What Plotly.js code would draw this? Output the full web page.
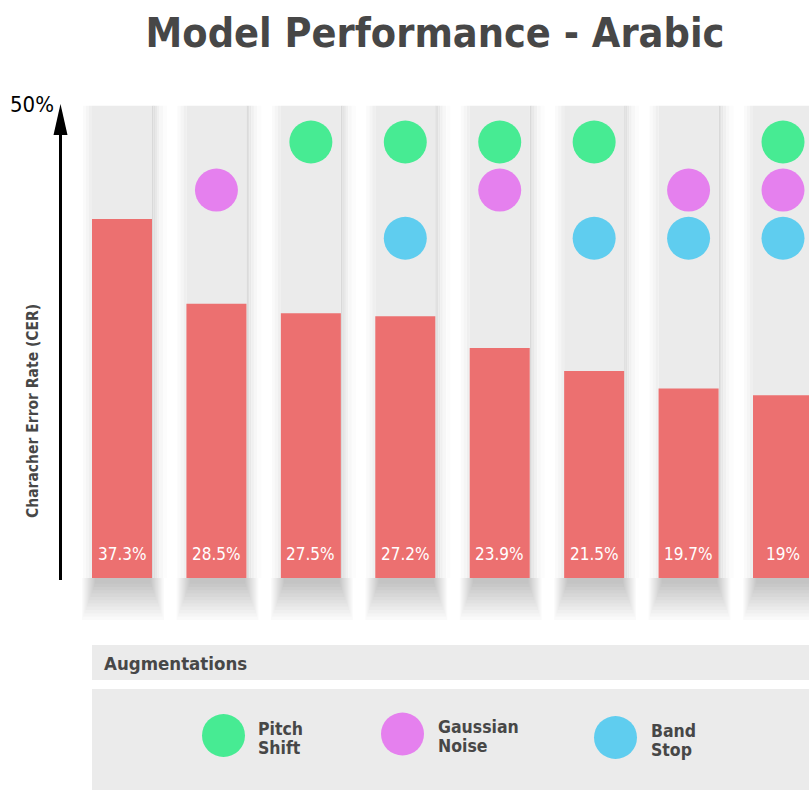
<!DOCTYPE html>
<html>
<head>
<meta charset="utf-8">
<script src="https://cdn.plot.ly/plotly-3.0.1.min.js"></script>
<style>html,body{margin:0;padding:0;background:#fff;}#chart{width:809px;height:791px;}</style>
</head>
<body>
<div id="chart"></div>
<script>
// ---- data ----
const configs = ["Baseline", "Gaussian Noise", "Pitch Shift", "Pitch Shift + Band Stop",
  "Pitch Shift + Gaussian Noise", "Pitch Shift + Band Stop (2)", "Gaussian Noise + Band Stop", "All"];
const cerValues = [37.3, 28.5, 27.5, 27.2, 23.9, 21.5, 19.7, 19];
const valueLabels = ["37.3%", "28.5%", "27.5%", "27.2%", "23.9%", "21.5%", "19.7%", "19%"];
const pitchShift    = [0, 0, 1, 1, 1, 1, 0, 1];
const gaussianNoise = [0, 1, 0, 0, 1, 0, 1, 1];
const bandStop      = [0, 0, 0, 1, 0, 1, 1, 1];
const augNames = ["Pitch Shift", "Gaussian Noise", "Band Stop"];
const axisMaxLabel = "50%";
const yTitle = "Characher Error Rate (CER)";
const chartTitle = "Model Performance - Arabic";

// ---- styling / geometry ----
const W = 809, H = 791;
const C0 = 122, STEP = 94.43;         // px of first column centre, px per column
const ZERO = 578, PER = 9.625;         // px of 0%, px per 1%
const BARW = 60 / STEP;
const COLTOP = 49.07;                  // top of grey column (in %)
const ROWS = [45.3, 40.3, 35.3];       // marker rows (in %)
const colors = {grey: "#ebebeb", red: "#ec7070", green: "#47eb93", pink: "#e580ee", blue: "#5fcdef", text: "#474747"};
const condFont = "'Liberation Sans Narrow', 'DejaVu Sans Condensed', 'Roboto', sans-serif";
const px = x => x / W;
const py = y => 1 - y / H;

const idx = configs.map((_, i) => i);

const traces = [];
traces.push({type: "bar", x: idx, y: idx.map(() => COLTOP), width: BARW,
  marker: {color: colors.grey, line: {width: 0}}, hoverinfo: "skip", showlegend: false});
traces.push({type: "bar", x: idx, y: cerValues, width: BARW,
  marker: {color: colors.red, line: {width: 0}}, hoverinfo: "skip", showlegend: false});
[[pitchShift, colors.green], [gaussianNoise, colors.pink], [bandStop, colors.blue]].forEach((d, r) => {
  const xs = idx.filter(i => d[0][i]);
  traces.push({type: "scatter", mode: "markers", x: xs, y: xs.map(() => ROWS[r]),
    marker: {size: 43, color: d[1], line: {width: 0}}, name: augNames[r], hoverinfo: "skip", showlegend: false});
});

const shapes = [];
idx.forEach(i => {
  const cx = C0 + i * STEP, L = cx - 30, R = cx + 30;
  const top = ZERO - COLTOP * PER;
  // right-edge shadow of grey column (gradient to white)
  [[0, 1.5, "#d9d9d9"], [1.5, 3, "#e0e0e0"], [3, 5, "#e8e8e8"], [5, 7.5, "#f0f0f0"], [7.5, 11, "#f7f7f7"], [11, 15, "#fcfcfc"]].forEach(s => {
    shapes.push({type: "rect", xref: "paper", yref: "paper", layer: "below",
      x0: px(R + s[0]), x1: px(R + s[1]), y0: py(ZERO), y1: py(top), fillcolor: s[2], line: {width: 0}});
  });
  // soft left fade
  [[-9, -6, "#fafafa"], [-6, -3, "#f5f5f5"], [-3, 0, "#efefef"]].forEach(s => {
    shapes.push({type: "rect", xref: "paper", yref: "paper", layer: "below",
      x0: px(L + s[0]), x1: px(L + s[1]), y0: py(ZERO), y1: py(top), fillcolor: s[2], line: {width: 0}});
  });
  // blurred shadow below bar
  for (let k = 0; k < 12; k++) {
    shapes.push({type: "rect", xref: "paper", yref: "paper", layer: "below",
      x0: px(L - 10 + k * 1.2), x1: px(R + 12 - k * 1.2), y0: py(ZERO), y1: py(ZERO + 42 - k * 3.3),
      fillcolor: "rgba(0,0,0,0.018)", line: {width: 0}});
  }
});
// y axis arrow
shapes.push({type: "line", xref: "paper", yref: "paper", x0: px(60.5), x1: px(60.5), y0: py(580), y1: py(130),
  line: {color: "#000", width: 3}});
shapes.push({type: "path", xref: "paper", yref: "paper",
  path: `M ${px(53.5)} ${py(135)} L ${px(60.5)} ${py(104)} L ${px(67.5)} ${py(135)} Z`,
  fillcolor: "#000", line: {width: 0}});
// legend boxes
shapes.push({type: "rect", xref: "paper", yref: "paper", x0: px(92), x1: px(809), y0: py(680), y1: py(645),
  fillcolor: colors.grey, line: {width: 0}});
shapes.push({type: "rect", xref: "paper", yref: "paper", x0: px(92), x1: px(809), y0: py(790), y1: py(689),
  fillcolor: colors.grey, line: {width: 0}});
const legendItems = [[223.5, 735.5, colors.green, 256], [402.5, 734, colors.pink, 436], [615.5, 737.5, colors.blue, 649]];
legendItems.forEach(l => {
  shapes.push({type: "circle", xref: "paper", yref: "paper", x0: px(l[0] - 21.5), x1: px(l[0] + 21.5),
    y0: py(l[1] + 21.5), y1: py(l[1] - 21.5), fillcolor: l[2], line: {width: 0}});
});

const annotations = [];
idx.forEach(i => {
  annotations.push({x: i, y: 0, xref: "x", yref: "y", text: valueLabels[i], showarrow: false,
    xanchor: "center", yanchor: "middle", yshift: 24, font: {family: condFont, size: 17, color: "#ffffff"}});
});
annotations.push({xref: "paper", yref: "paper", x: px(32), y: py(104), xanchor: "center", yanchor: "middle",
  text: axisMaxLabel, showarrow: false, font: {family: condFont, size: 22, color: "#000"}});
annotations.push({xref: "paper", yref: "paper", x: px(33), y: py(411), xanchor: "center", yanchor: "middle",
  text: yTitle, showarrow: false, textangle: -90,
  font: {family: condFont, size: 15.5, color: colors.text, weight: "bold"}});
annotations.push({xref: "paper", yref: "paper", x: px(102), y: py(663), xanchor: "left", yanchor: "middle",
  text: "Augmentations", showarrow: false, font: {family: condFont, size: 18.5, color: colors.text, weight: "bold"}});
legendItems.forEach((l, k) => {
  const words = augNames[k].split(" ");
  words.forEach((w, j) => {
    annotations.push({xref: "paper", yref: "paper", x: px(l[3]), y: py(l[1] - 7 + j * 19), xanchor: "left", yanchor: "middle",
      text: w, showarrow: false, font: {family: condFont, size: 17.5, color: colors.text, weight: "bold"}});
  });
});

const layout = {
  width: W, height: H, margin: {l: 0, r: 0, t: 0, b: 0, pad: 0},
  paper_bgcolor: "#fff", plot_bgcolor: "rgba(0,0,0,0)",
  barmode: "overlay", showlegend: false,
  title: {text: chartTitle, x: px(435), xanchor: "center", y: py(33), yanchor: "middle",
    font: {family: condFont, size: 41, color: colors.text, weight: "bold"}},
  xaxis: {range: [-C0 / STEP, (W - C0) / STEP], visible: false, fixedrange: true},
  yaxis: {range: [-(H - ZERO) / PER, ZERO / PER], visible: false, fixedrange: true},
  shapes: shapes, annotations: annotations
};
Plotly.newPlot("chart", traces, layout, {staticPlot: true, displayModeBar: false});
</script>
</body>
</html>
